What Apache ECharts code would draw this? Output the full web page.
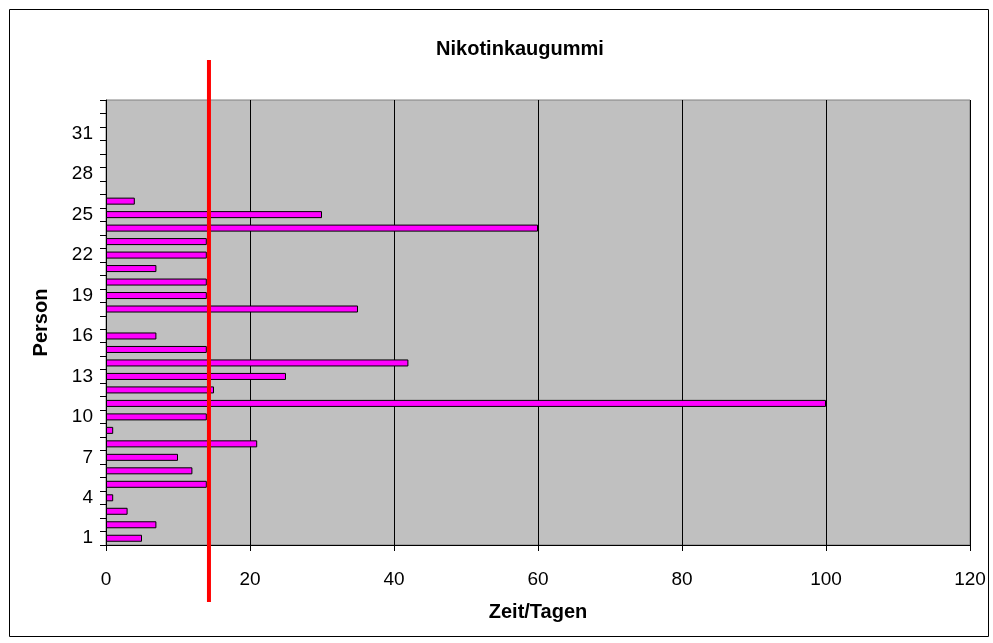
<!DOCTYPE html>
<html><head><meta charset="utf-8">
<script src="https://cdn.jsdelivr.net/npm/echarts@6/dist/echarts.min.js"></script>
<style>html,body{margin:0;padding:0;background:#fff}#c{width:993px;height:643px}</style>
</head><body><div id="c"></div>
<script>
var categories = [];
for (var i = 1; i <= 33; i++) categories.push(String(i));
var values = [5, 7, 3, 1, 14, 12, 10, 21, 1, 14, 100, 15, 25, 42, 14, 7, null, 35, 14, 14, 7, 14, 14, 60, 30, 4, null, null, null, null, null, null, null];
var xTicks = [0, 20, 40, 60, 80, 100, 120];
var refValue = 14.3;
var titleText = 'Nikotinkaugummi';
var xName = 'Zeit/Tagen';
var yName = 'Person';

var chart = echarts.init(document.getElementById('c'), null, {renderer: 'canvas'});
var font = '"Liberation Sans", Arial, sans-serif';
var border = {type: 'rect', left: 7, top: 7, shape: {width: 979, height: 627},
  style: {fill: null, stroke: '#000', lineWidth: 1}, silent: true};
chart.setOption({
  animation: false,
  backgroundColor: '#fff',
  title: {text: titleText, left: 520, top: 39, textAlign: 'center', padding: 0,
    textStyle: {fontFamily: font, fontSize: 20, fontWeight: 'bold', color: '#000'}},
  grid: {left: 106, right: 23, top: 100, bottom: 98, show: true, backgroundColor: '#C0C0C0', borderColor: '#808080', borderWidth: 1},
  xAxis: {type: 'value', min: xTicks[0], max: xTicks[xTicks.length - 1], interval: 20,
    name: xName, nameLocation: 'middle', nameGap: 57,
    nameTextStyle: {fontFamily: font, fontSize: 20, fontWeight: 'bold', color: '#000'},
    axisLine: {show: true, lineStyle: {color: '#000', width: 1}},
    axisTick: {show: true, length: 6, lineStyle: {color: '#000'}},
    axisLabel: {fontFamily: font, fontSize: 19, color: '#000', margin: 25},
    splitLine: {show: true, lineStyle: {color: '#000', width: 1}}},
  yAxis: {type: 'category', data: categories, boundaryGap: true,
    name: yName, nameLocation: 'middle', nameGap: 55, nameRotate: 90,
    nameTextStyle: {fontFamily: font, fontSize: 20, fontWeight: 'bold', color: '#000'},
    axisLine: {show: true, lineStyle: {color: '#000', width: 1}},
    axisTick: {show: true, interval: 0, length: 6, lineStyle: {color: '#000'}},
    axisLabel: {interval: 2, fontFamily: font, fontSize: 19, color: '#000', margin: 13},
    splitLine: {show: false}},
  series: [{type: 'bar', data: values, barWidth: '52%',
    itemStyle: {color: '#FF00FF', borderColor: '#000', borderWidth: 1}}],
  graphic: [border]
});
var px = chart.convertToPixel({xAxisIndex: 0}, refValue);
chart.setOption({graphic: [border,
  {type: 'line', shape: {x1: px, y1: 60, x2: px, y2: 602}, style: {stroke: '#FF0000', lineWidth: 4}, z: 100}]});
</script></body></html>
